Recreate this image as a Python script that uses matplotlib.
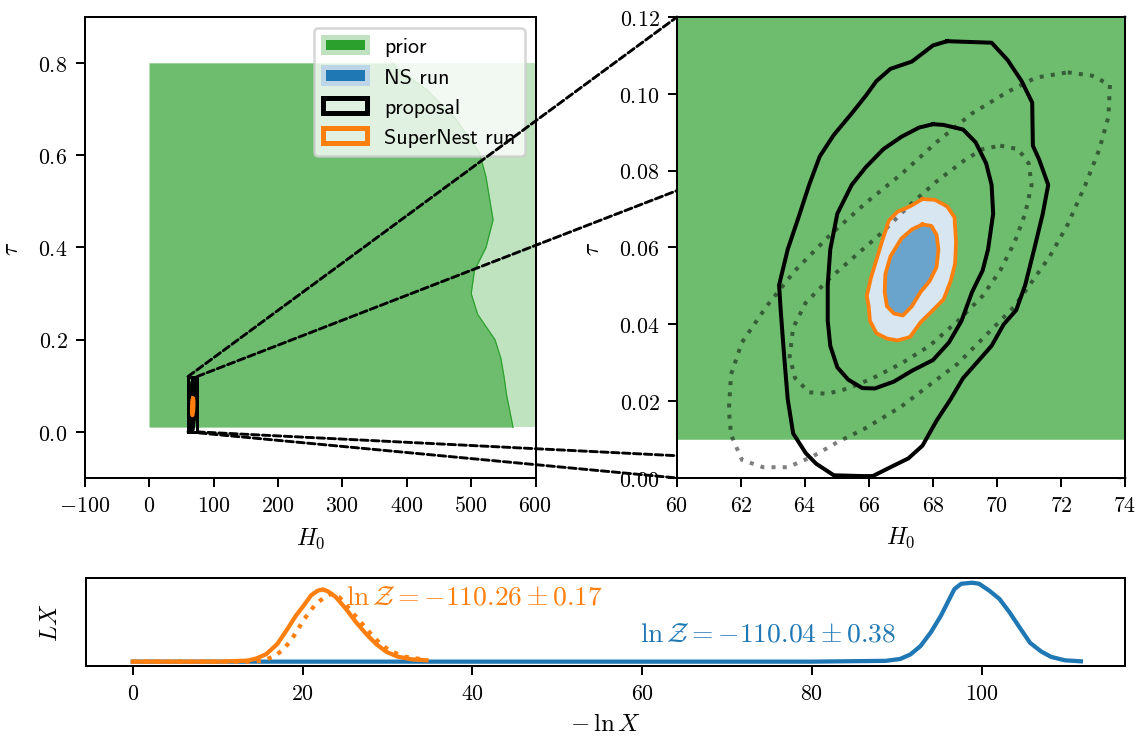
import numpy as np
import matplotlib.pyplot as plt
from matplotlib.patches import Patch, Rectangle, ConnectionPatch

plt.rcParams['font.family'] = 'serif'
plt.rcParams['font.serif'] = ['cmr10']
plt.rcParams['mathtext.fontset'] = 'cm'
plt.rcParams['axes.formatter.use_mathtext'] = True
plt.rcParams['font.size'] = 8.8

# --- prior: uniform box and the sampled prior region (right edge vs tau)
prior_h0 = [0, 600]
prior_tau = [0.01, 0.8]
edge_tau = [0.01, 0.08, 0.12, 0.16, 0.20, 0.255, 0.30, 0.35, 0.40, 0.46,
            0.553, 0.605, 0.677, 0.742, 0.79, 0.8]
edge_h0 = [565, 555, 551, 546, 537, 510, 500, 505, 523, 534,
           523, 513, 477, 431, 384, 379]

# --- proposal box
box_h0 = [60, 74]
box_tau = [0.0, 0.12]

# --- proposal contours (black, solid)
prop_outer_h0 = [68.44, 69.83, 70.33, 70.77, 71.10, 71.12, 71.32, 71.60, 71.43, 71.16,
                 70.88, 70.60, 70.21, 69.83, 69.44, 68.94, 68.55, 68.11, 67.67, 67.23,
                 66.67, 66.12, 65.79, 64.90, 64.35, 64.02, 63.63, 63.46, 63.35, 63.24,
                 63.19, 63.46, 63.80, 64.13, 64.46, 64.90, 65.46, 65.90, 66.23, 66.67,
                 67.34, 68.00]
prop_outer_tau = [0.1137, 0.1133, 0.1088, 0.1033, 0.0977, 0.0865, 0.0828, 0.0763, 0.0688, 0.0595,
                  0.0502, 0.0437, 0.0400, 0.0344, 0.0307, 0.0260, 0.0205, 0.0149, 0.0084, 0.0051,
                  0.0028, 0.0005, 0.0005, 0.0007, 0.0037, 0.0065, 0.0116, 0.0205, 0.0316, 0.0437,
                  0.0502, 0.0595, 0.0679, 0.0763, 0.0837, 0.0893, 0.0949, 0.0995, 0.1033, 0.1065,
                  0.1084, 0.1126]
prop_inner_h0 = [68.00, 68.33, 68.94, 69.33, 69.66, 69.83, 69.88, 69.72, 69.55, 69.22,
                 68.89, 68.50, 68.00, 67.34, 66.78, 66.18, 65.79, 65.35, 65.01, 64.79,
                 64.71, 64.71, 64.79, 65.01, 65.46, 65.90, 66.45, 67.01, 67.56]
prop_inner_tau = [0.0921, 0.0919, 0.0907, 0.0874, 0.0819, 0.0763, 0.0688, 0.0595, 0.0540, 0.0484,
                  0.0409, 0.0353, 0.0307, 0.0279, 0.0251, 0.0233, 0.0234, 0.0256, 0.0288, 0.0344,
                  0.0409, 0.0502, 0.0595, 0.0688, 0.0763, 0.0809, 0.0856, 0.0888, 0.0912]

# --- tilted reference contours (grey, dotted)
ref_outer_h0 = [72.21, 72.98, 73.53, 73.48, 73.20, 72.76, 72.21, 71.65, 71.10, 70.55,
                69.66, 68.78, 67.89, 67.01, 65.90, 65.01, 64.24, 63.46, 62.69, 62.03,
                61.69, 61.62, 61.69, 62.03, 62.80, 63.69, 64.79, 65.90, 67.01, 68.11,
                69.22, 70.33, 71.21]
ref_outer_tau = [0.1056, 0.1047, 0.1023, 0.0940, 0.0856, 0.0763, 0.0660, 0.0577, 0.0512, 0.0447,
                 0.0372, 0.0298, 0.0242, 0.0186, 0.0130, 0.0093, 0.0056, 0.0028, 0.0028, 0.0047,
                 0.0112, 0.0177, 0.0270, 0.0353, 0.0447, 0.0540, 0.0633, 0.0716, 0.0791, 0.0874,
                 0.0949, 0.1005, 0.1042]
ref_inner_h0 = [70.10, 70.66, 70.99, 71.08, 70.88, 70.55, 70.10, 69.55, 68.78, 67.89,
                67.01, 66.12, 65.35, 64.68, 64.13, 63.69, 63.52, 63.63, 64.02, 64.79,
                65.68, 66.45, 67.23, 68.11, 69.00, 69.55]
ref_inner_tau = [0.0865, 0.0856, 0.0819, 0.0763, 0.0688, 0.0614, 0.0540, 0.0474, 0.0409, 0.0344,
                 0.0298, 0.0260, 0.0233, 0.0219, 0.0223, 0.0260, 0.0316, 0.0391, 0.0456, 0.0521,
                 0.0586, 0.0642, 0.0707, 0.0772, 0.0828, 0.0856]

# --- posterior contours (NS run filled, SuperNest run orange lines)
post_outer_h0 = [67.67, 68.06, 68.44, 68.67, 68.72, 68.69, 68.55, 68.33, 68.00, 67.61,
                 67.28, 66.89, 66.56, 66.23, 66.03, 65.99, 65.93, 66.06, 66.23, 66.40,
                 66.62, 66.89, 67.28]
post_outer_tau = [0.0726, 0.0724, 0.0707, 0.0679, 0.0614, 0.0558, 0.0512, 0.0465, 0.0437, 0.0405,
                  0.0367, 0.0358, 0.0363, 0.0377, 0.0409, 0.0447, 0.0474, 0.0521, 0.0567, 0.0614,
                  0.0670, 0.0693, 0.0707]
post_inner_h0 = [67.67, 67.95, 68.11, 68.17, 68.11, 67.89, 67.61, 67.34, 67.06, 66.78,
                 66.56, 66.49, 66.51, 66.67, 67.01, 67.34]
post_inner_tau = [0.0660, 0.0656, 0.0633, 0.0595, 0.0549, 0.0512, 0.0484, 0.0447, 0.0423, 0.0428,
                  0.0447, 0.0484, 0.0530, 0.0577, 0.0623, 0.0647]

# --- L X against -ln X
ns_x = [0.0, 20.0, 40.0, 60.0, 80.0, 88.7, 90.4, 91.6, 92.8, 94.0, 95.2, 96.0, 96.8, 97.6,
        98.9, 99.7, 100.9, 102.1, 103.3, 104.5, 105.7, 107.0, 108.2, 109.8, 111.7]
ns_y = [0.0, 0.0, 0.0, 0.0, 0.0, 0.01, 0.034, 0.09, 0.197, 0.368, 0.58, 0.75, 0.92, 0.987,
        1.0, 0.987, 0.90, 0.795, 0.624, 0.43, 0.24, 0.13, 0.06, 0.017, 0.004]
sn_x = [0.0, 5.0, 10.0, 13.5, 14.5, 15.7, 17.0, 18.2, 19.2, 20.2, 21.0, 21.8, 22.4, 23.0,
        23.9, 25.1, 26.3, 27.5, 28.7, 29.9, 31.2, 32.8, 34.6]
sn_y = [0.0, 0.0, 0.0, 0.013, 0.038, 0.094, 0.22, 0.41, 0.58, 0.72, 0.84, 0.90, 0.915, 0.89,
        0.82, 0.67, 0.50, 0.35, 0.22, 0.123, 0.064, 0.03, 0.017]
sn2_x = [0.0, 5.0, 10.0, 14.0, 15.3, 16.6, 17.8, 19.0, 20.2, 21.4, 22.6, 23.4, 24.3, 25.5,
         26.7, 27.9, 29.1, 30.3, 32.0, 34.0, 34.6]
sn2_y = [0.0, 0.0, 0.0, 0.0, 0.013, 0.064, 0.157, 0.33, 0.54, 0.71, 0.82, 0.86, 0.82, 0.67,
         0.52, 0.37, 0.234, 0.136, 0.064, 0.03, 0.02]
logz_sn = r'$\ln\mathcal{Z} = -110.26 \pm 0.17$'
logz_ns = r'$\ln\mathcal{Z} = -110.04 \pm 0.38$'

light_green = '#c0e2c0'
light_blue = '#d7e6f1'
mid_blue = '#6aa4cc'


def closed(x, y):
    return list(x) + [x[0]], list(y) + [y[0]]


def draw_panel(ax):
    ax.fill_between(prior_h0, prior_tau[0], prior_tau[1], color='C2', alpha=0.3, lw=0)
    ax.fill_betweenx(edge_tau, 0, edge_h0, color='C2', alpha=0.55, lw=0)
    ax.plot(edge_h0, edge_tau, color='C2', lw=0.5)
    for hx, ty in [(ref_outer_h0, ref_outer_tau), (ref_inner_h0, ref_inner_tau)]:
        ax.plot(*closed(hx, ty), color='k', alpha=0.5, ls=(0, (1, 1.8)), lw=1.6)
    for hx, ty in [(prop_outer_h0, prop_outer_tau), (prop_inner_h0, prop_inner_tau)]:
        ax.plot(*closed(hx, ty), color='k', lw=1.6)
    ax.fill(post_outer_h0, post_outer_tau, facecolor=light_blue, edgecolor='C0', lw=0.6)
    ax.fill(post_inner_h0, post_inner_tau, facecolor=mid_blue, edgecolor='C0', lw=0.6)
    for hx, ty in [(post_outer_h0, post_outer_tau), (post_inner_h0, post_inner_tau)]:
        ax.plot(*closed(hx, ty), color='C1', lw=1.5)


fig = plt.figure(figsize=(1138 / 180, 737 / 180), dpi=180)
ax1 = fig.add_axes([0.0747, 0.3501, 0.3959, 0.6255])
ax2 = fig.add_axes([0.5949, 0.3501, 0.3937, 0.6255])
ax3 = fig.add_axes([0.0753, 0.0950, 0.9133, 0.1194])
ax2.set_zorder(2)

# left panel: full prior
draw_panel(ax1)
ax1.add_patch(Rectangle((box_h0[0], box_tau[0]), box_h0[1] - box_h0[0],
                        box_tau[1] - box_tau[0], fill=False, ec='k', lw=1.2))
ax1.set_xlim(-100, 600)
ax1.set_ylim(-0.1, 0.9)
ax1.set_xticks(np.arange(-100, 601, 100))
ax1.set_yticks(np.arange(0, 0.81, 0.2))
ax1.set_xlabel(r'$H_0$', fontsize=9.5)
ax1.set_ylabel(r'$\tau$', fontsize=9.5, labelpad=6)

handles = [Patch(facecolor='C2', edgecolor=light_green, lw=2),
           Patch(facecolor='C0', edgecolor='#bcd6e8', lw=2),
           Patch(facecolor='none', edgecolor='k', lw=2),
           Patch(facecolor='none', edgecolor='C1', lw=2)]
ax1.legend(handles, ['prior', 'NS run', 'proposal', 'SuperNest run'],
           loc='upper right', prop={'family': 'cmss10', 'size': 8.8})

# right panel: zoom on the proposal box
draw_panel(ax2)
ax2.set_xlim(*box_h0)
ax2.set_ylim(*box_tau)
ax2.set_xticks(np.arange(60, 75, 2))
ax2.set_yticks(np.arange(0, 0.121, 0.02))
ax2.set_xlabel(r'$H_0$', fontsize=9.5)
ax2.set_ylabel(r'$\tau$', fontsize=9.5, labelpad=6)

# zoom lines from the box corners to the panel corners
for cx in box_h0:
    for cy in box_tau:
        con = ConnectionPatch(xyA=(cx, cy), coordsA=ax1.transData,
                              xyB=(cx, cy), coordsB=ax2.transData,
                              color='k', lw=1.15, ls=(0, (2.6, 1.2)), zorder=1)
        fig.add_artist(con)

# bottom panel
ax3.plot(ns_x, ns_y, color='C0', lw=1.7)
ax3.plot(sn_x, sn_y, color='C1', lw=1.7)
ax3.plot(sn2_x, sn2_y, color='C1', lw=1.7, ls=':')
ax3.text(25.1, 0.83, logz_sn, color='C1', va='center', fontsize=11)
ax3.text(59.8, 0.36, logz_ns, color='C0', va='center', fontsize=11)
ax3.set_xlim(-5.55, 116.9)
ax3.set_ylim(-0.055, 1.06)
ax3.set_yticks([])
ax3.set_xlabel(r'$-\,\ln X$', fontsize=10)
ax3.set_ylabel(r'$LX$', fontsize=9.5, labelpad=9.5)

fig.savefig('out.png', dpi=180)
